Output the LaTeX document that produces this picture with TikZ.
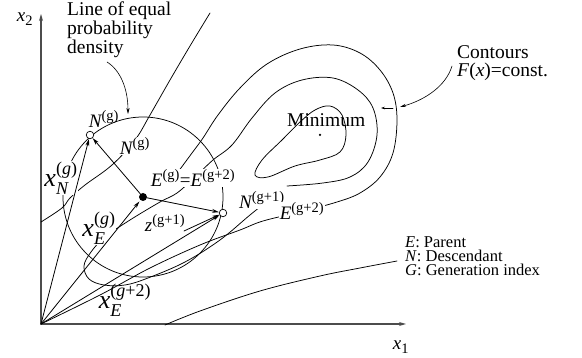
\documentclass[tikz,border=0pt]{standalone}
\usepackage{fontspec}
\usepackage{amsmath}
\setmainfont{Liberation Serif}
\usetikzlibrary{arrows.meta}
\newcommand{\tx}[1]{\text{\itshape #1}}
\newcommand{\tr}[1]{\text{\upshape #1}}
\newcommand{\smS}[1]{\text{\fontsize{14.5}{14.5}\selectfont #1}}
\newcommand{\bgS}[1]{\text{\fontsize{18}{18}\selectfont #1}}
\begin{document}
\begin{tikzpicture}[x=1pt,y=-1pt, line cap=round, line join=round,
  contour/.style={line width=0.75pt},
  arr/.style={line width=0.8pt,-{Stealth[length=7pt,width=3.8pt]}},
  axisline/.style={line width=1.1pt, draw=black!70, -{Stealth[length=7pt,width=4pt]}},
  lbl/.style={inner sep=0.6pt, fill=white},
  plain/.style={inner sep=0pt},
  big/.style={font=\fontsize{26}{26}\selectfont},
  mid/.style={font=\fontsize{19}{19}\selectfont},
  txt/.style={font=\fontsize{19.5}{18.5}\selectfont, inner sep=0pt, anchor=base west},
  leg/.style={font=\fontsize{16.5}{14}\selectfont, inner sep=0pt, anchor=north west, align=left},
  opendot/.style={circle,draw,fill=white,minimum size=7.5pt,inner sep=0pt,line width=0.7pt},
  solidot/.style={circle,fill=black,minimum size=8pt,inner sep=0pt}]

\useasboundingbox (0,0) rectangle (582,358);

% axes
\coordinate (O) at (41,324);
\coordinate (X1end) at (406,324);
\coordinate (X2end) at (41,14);
\draw[axisline] (O) -- (X1end);
\draw[axisline] (O) -- (X2end);
\node[plain, mid] (x1lab) at (401,347) {$\tx{x}_{\smS{1}}$};
\node[plain, mid] (x2lab) at (25,19) {$\tx{x}_{\smS{2}}$};

% contours
\draw[contour] plot[smooth cycle, tension=0.6] coordinates {(255,175) (262,160) (282,140) (300,122) (315,110) (330,106) (342,115) (346,135) (340,152) (320,160) (295,166) (268,177)};
\draw[contour] plot[smooth, tension=0.6] coordinates {(287,186) (323,183) (350,177) (368,162) (377,135) (373,108) (358,90) (333,78) (302,80) (275,93) (252,118) (232,145) (213,160) (195,177) (177,193) (160,202) (130,220) (105,237) (91,252) (84,266) (89,279) (104,285) (125,285) (148,278) (185,262) (220,240) (250,215) (275,195)};
\draw[contour] plot[smooth, tension=0.6] coordinates {(178,172) (192,153) (203,138) (218,115) (240,88) (267,64) (300,49) (333,45) (360,53) (380,70) (393,93) (397,120) (393,153) (380,177) (360,193) (337,202) (300,212) (263,221) (240,230) (200,245) (150,268) (100,295) (41,324)};
\draw[contour] plot[smooth, tension=0.6] coordinates {(210,13) (190,46) (170,80) (150,115) (135,140) (112,165) (85,185) (70,198) (62,208) (41,222)};
\draw[contour] plot[smooth, tension=0.6] coordinates {(165,325) (200,311) (260,291) (320,276) (360,268) (397,261)};

% circle of equal probability density
\coordinate (C) at (143,197);
\draw[contour] (C) circle[radius=80pt];

% labels
\node[lbl, big] (xN) at (61,178) {$\tx{x}_{\bgS{\itshape N}}^{\bgS{(\textit{g})}}$};
\node[lbl, big] (xE) at (99,228) {$\tx{x}_{\bgS{\itshape E}}^{\bgS{(\textit{g})}}$};
\node[plain, big] (xE2) at (125,300) {$\tx{x}_{\bgS{\itshape E}}^{\bgS{(\textit{g}+2)}}$};
\node[lbl, mid] (zlab) at (165,223) {$\tx{z}^{\smS{(g+1)}}$};
\node[lbl, mid] (Elab) at (193,178) {$\tx{E}^{\smS{(g)}}\tr{=}\tx{E}^{\smS{(g+2)}}$};
\node[lbl, mid] (Nin) at (135,146) {$\tx{N}^{\smS{(g)}}$};
\node[plain, mid] (Nout) at (104,119) {$\tx{N}^{\smS{(g)}}$};
\node[lbl, mid] (N1lab) at (262,200) {$\tx{N}^{\smS{(g+1)}}$};
\node[lbl, mid] (E2lab) at (302,211) {$\tx{E}^{\smS{(g+2)}}$};
\node[txt] (minlab) at (287,127) {Minimum};
\node[solidot, minimum size=2.5pt] (minpt) at (320,135) {};
\node[txt] (cont1) at (457,59) {Contours};
\node[txt] (cont2) at (457,77) {\textit{F}(\textit{x})=const.};
\node[txt] (line1) at (67,16) {Line of equal};
\node[txt] (line2) at (67,35) {probability};
\node[txt] (line3) at (67,54) {density};
\node[leg] (legend) at (405,236.5) {\textit{E}: Parent\\ \textit{N}: Descendant\\ \textit{G}: Generation index};

% pointer arrows
\coordinate (lineTail) at (107,62);
\coordinate (lineTip) at (128,114);
\coordinate (contStart) at (452,66);
\coordinate (contTip) at (400,107);
\coordinate (contTail) at (393,108);
\coordinate (contTip2) at (381,108);
\draw[line width=0.6pt,-{Stealth[length=6pt,width=3.2pt]}] (lineTail) .. controls (120,70) and (128,88) .. (lineTip);
\draw[line width=0.6pt,-{Stealth[length=6pt,width=3.2pt]}] (contStart) .. controls (446,86) and (425,100) .. (contTip);
\draw[line width=0.6pt,-{Stealth[length=4pt,width=2.6pt]}] (contTail) -- (contTip2);

% points
\node[opendot] (Ng) at (90,135) {};
\node[opendot] (Ng1) at (223,213) {};
\node[solidot] (Eg) at (143,197) {};
\coordinate (S) at (184,231);

% vectors
\draw[arr] (O) -- (Ng);
\draw[arr, shorten >=1.5pt] (O) -- (Eg);
\draw[arr] (O) -- (Ng1);
\draw[arr] (S) -- (Ng1);
\draw[arr] (Eg) -- (Ng);
\draw[arr] (Eg) -- (Ng1);
\end{tikzpicture}
\end{document}
